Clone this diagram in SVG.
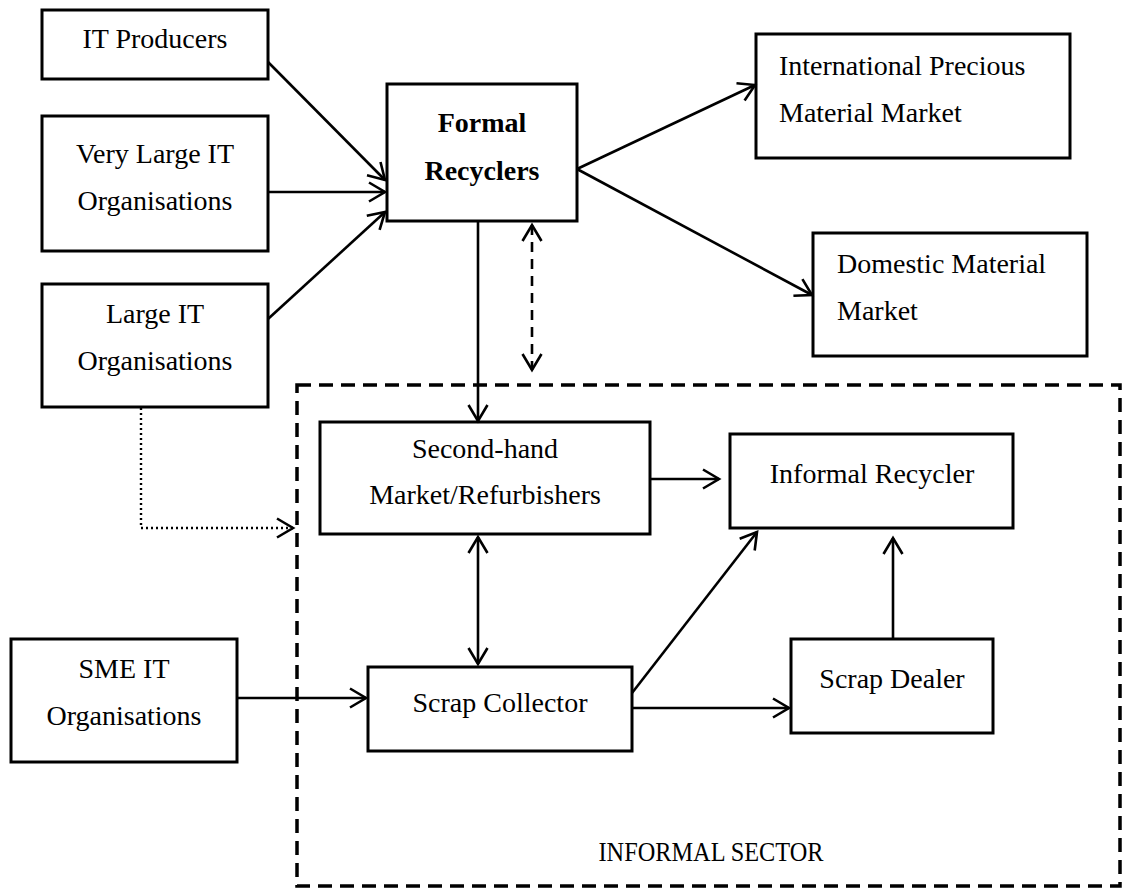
<svg xmlns="http://www.w3.org/2000/svg" width="1123" height="888" viewBox="0 0 1123 888">
  <style>
    .box { fill: #fff; stroke: #000; stroke-width: 3; }
    .lbl { font-family: "Liberation Serif", "Times New Roman", serif; font-size: 28px; fill: #000; }
    .mid { text-anchor: middle; }
    .bold { font-weight: bold; }
    .link { fill: none; stroke: #000; stroke-width: 2.6; }
    .dash { stroke-dasharray: 10 7; }
    .dots { stroke-dasharray: 2 3; stroke-width: 2.4; }
    .zone { fill: none; stroke: #000; stroke-width: 3.5; stroke-dasharray: 14 8; }
  </style>
  <defs>
    <marker id="arr" viewBox="-20 -12 24 24" refX="0" refY="0" markerWidth="24" markerHeight="24" markerUnits="userSpaceOnUse" orient="auto-start-reverse">
      <path d="M-16,-9.5 L0,0 L-16,9.5" fill="none" stroke="#000" stroke-width="2.6"/>
    </marker>
  </defs>
  <rect width="1123" height="888" fill="#fff"/>

  <!-- informal sector boundary -->
  <g id="informal-sector">
    <rect class="zone" x="297" y="385" width="823" height="501"/>
    <text class="lbl mid" x="711" y="861" textLength="225" lengthAdjust="spacingAndGlyphs">INFORMAL SECTOR</text>
  </g>

  <g id="it-producers">
    <rect class="box" x="42" y="10" width="226" height="69"/>
    <text class="lbl mid" x="155" y="48">IT Producers</text>
  </g>
  <g id="very-large-it">
    <rect class="box" x="42" y="116" width="226" height="135"/>
    <text class="lbl mid" x="155" y="163">Very Large IT</text>
    <text class="lbl mid" x="155" y="210">Organisations</text>
  </g>
  <g id="large-it">
    <rect class="box" x="42" y="284" width="226" height="123"/>
    <text class="lbl mid" x="155" y="323">Large IT</text>
    <text class="lbl mid" x="155" y="370">Organisations</text>
  </g>
  <g id="sme-it">
    <rect class="box" x="11" y="639" width="226" height="123"/>
    <text class="lbl mid" x="124" y="678">SME IT</text>
    <text class="lbl mid" x="124" y="725">Organisations</text>
  </g>
  <g id="formal-recyclers">
    <rect class="box" x="387" y="84" width="190" height="137"/>
    <text class="lbl mid bold" x="482" y="132">Formal</text>
    <text class="lbl mid bold" x="482" y="180">Recyclers</text>
  </g>
  <g id="intl-market">
    <rect class="box" x="756" y="34" width="314" height="124"/>
    <text class="lbl" x="779" y="75">International Precious</text>
    <text class="lbl" x="779" y="122">Material Market</text>
  </g>
  <g id="domestic-market">
    <rect class="box" x="813" y="233" width="274" height="123"/>
    <text class="lbl" x="837" y="273">Domestic Material</text>
    <text class="lbl" x="837" y="320">Market</text>
  </g>
  <g id="second-hand">
    <rect class="box" x="320" y="422" width="330" height="112"/>
    <text class="lbl mid" x="485" y="458">Second-hand</text>
    <text class="lbl mid" x="485" y="504">Market/Refurbishers</text>
  </g>
  <g id="informal-recycler">
    <rect class="box" x="730" y="434" width="283" height="94"/>
    <text class="lbl mid" x="872" y="483">Informal Recycler</text>
  </g>
  <g id="scrap-collector">
    <rect class="box" x="368" y="667" width="264" height="84"/>
    <text class="lbl mid" x="500" y="712">Scrap Collector</text>
  </g>
  <g id="scrap-dealer">
    <rect class="box" x="791" y="639" width="202" height="94"/>
    <text class="lbl mid" x="892" y="688">Scrap Dealer</text>
  </g>

  <g id="connectors">
    <line class="link" x1="268" y1="62" x2="385" y2="180" marker-end="url(#arr)"/>
    <line class="link" x1="268" y1="192" x2="385" y2="192" marker-end="url(#arr)"/>
    <line class="link" x1="268" y1="319" x2="385" y2="212" marker-end="url(#arr)"/>
    <line class="link" x1="577" y1="169" x2="755" y2="85" marker-end="url(#arr)"/>
    <line class="link" x1="577" y1="169" x2="812" y2="295" marker-end="url(#arr)"/>
    <line class="link" x1="478" y1="221" x2="478" y2="421" marker-end="url(#arr)"/>
    <line class="link dash" x1="532" y1="225" x2="532" y2="370" marker-start="url(#arr)" marker-end="url(#arr)"/>
    <polyline class="link dots" points="141,408 141,528 293,528" marker-end="url(#arr)"/>
    <line class="link" x1="650" y1="479" x2="719" y2="479" marker-end="url(#arr)"/>
    <line class="link" x1="478" y1="537" x2="478" y2="664" marker-start="url(#arr)" marker-end="url(#arr)"/>
    <line class="link" x1="237" y1="698" x2="366" y2="698" marker-end="url(#arr)"/>
    <line class="link" x1="632" y1="693" x2="757" y2="532" marker-end="url(#arr)"/>
    <line class="link" x1="632" y1="708" x2="789" y2="708" marker-end="url(#arr)"/>
    <line class="link" x1="893" y1="639" x2="893" y2="538" marker-end="url(#arr)"/>
  </g>
</svg>
